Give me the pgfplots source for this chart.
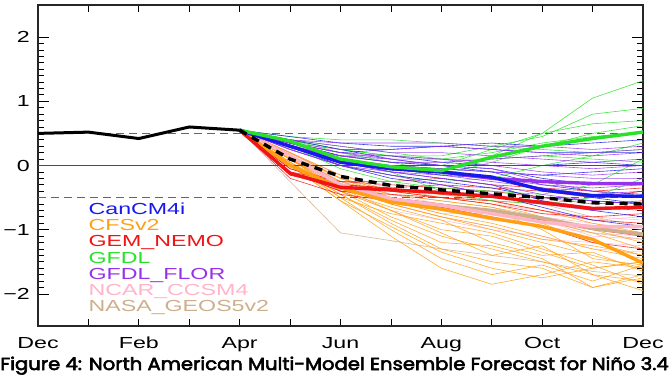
\documentclass[border=0pt]{standalone}
\usepackage{pgfplots}
\pgfplotsset{compat=1.18}
\usepackage{pgfplotstable}
\usepackage{fontspec}
\setmainfont{Liberation Sans}
\newfontfamily\idlfont{Liberation Sans}[FakeStretch=1.45]
\newfontfamily\capfont{Poppins}[FakeStretch=1.12, FakeBold=3.2]

\definecolor{cB}{RGB}{25,25,235}
\definecolor{cO}{RGB}{255,160,20}
\definecolor{cR}{RGB}{240,20,20}
\definecolor{cG}{RGB}{40,225,40}
\definecolor{cP}{RGB}{150,50,235}
\definecolor{cK}{RGB}{255,180,200}
\definecolor{cT}{RGB}{205,175,140}

% observed
\pgfplotstableread{
m obs
0 0.50
1 0.52
2 0.42
3 0.60
4 0.55
}\tabObs

% NMME ensemble mean
\pgfplotstableread{
m nmme
4 0.55
5 0.10
6 -0.17
7 -0.31
8 -0.38
9 -0.44
10 -0.50
11 -0.58
12 -0.60
}\tabMean

% CanCM4i
\pgfplotstableread{
m e1 e2 e3 e4 e5 e6 e7 e8 e9 e10 mean
4 0.55 0.55 0.55 0.55 0.55 0.55 0.55 0.55 0.55 0.55 0.55
5 0.45 0.35 0.30 0.35 0.25 0.30 0.40 0.30 0.35 0.30 0.30
6 0.35 0.20 0.10 0.15 0.00 0.05 0.25 0.00 0.15 0.10 0.05
7 0.30 0.25 0.00 0.05 -0.15 -0.10 0.10 -0.20 0.15 -0.05 -0.05
8 0.30 0.30 -0.05 0.00 -0.25 -0.20 0.00 -0.30 0.05 -0.15 -0.10
9 0.25 0.35 -0.10 -0.10 -0.35 -0.30 -0.05 -0.45 0.00 -0.20 -0.18
10 0.20 0.30 -0.15 -0.30 -0.50 -0.55 -0.20 -0.65 0.00 -0.35 -0.38
11 0.20 0.35 -0.10 -0.40 -0.55 -0.70 -0.30 -0.85 0.05 -0.50 -0.47
12 0.20 0.40 -0.05 -0.45 -0.60 -0.80 -0.30 -0.95 0.00 -0.60 -0.48
}\tabB

% CFSv2
\pgfplotstableread{
m e1 e2 e3 e4 e5 e6 e7 e8 e9 e10 e11 e12 e13 e14 e15 e16 e17 e18 mean
4 0.55 0.55 0.55 0.55 0.55 0.55 0.55 0.55 0.55 0.55 0.55 0.55 0.55 0.55 0.55 0.55 0.55 0.55 0.55
5 0.10 0.00 0.05 0.10 0.15 0.00 0.10 0.20 0.05 0.10 0.00 0.15 0.05 0.10 0.20 0.00 0.05 0.10 0.00
6 -0.30 -0.45 -0.50 -0.40 -0.20 -0.55 -0.35 -0.15 -0.45 -0.30 -0.50 -0.25 -0.40 -0.30 -0.20 -0.55 -0.35 -0.40 -0.35
7 -0.60 -0.90 -1.00 -0.80 -0.50 -1.10 -0.70 -0.40 -0.85 -0.55 -0.75 -0.45 -0.65 -0.50 -0.40 -0.95 -0.60 -0.70 -0.57
8 -0.80 -1.30 -1.45 -1.10 -0.60 -1.60 -1.00 -0.50 -1.20 -0.75 -0.90 -0.55 -0.85 -0.65 -0.45 -1.35 -0.80 -1.05 -0.68
9 -1.00 -1.50 -1.70 -1.30 -0.70 -1.85 -1.10 -0.60 -1.25 -0.90 -1.05 -0.65 -1.20 -0.70 -0.55 -1.60 -0.95 -1.40 -0.82
10 -1.20 -1.60 -1.55 -1.50 -0.90 -1.70 -1.35 -0.80 -1.45 -1.10 -1.30 -0.85 -1.40 -1.00 -0.70 -1.75 -1.15 -1.25 -0.95
11 -1.40 -1.90 -1.80 -1.70 -1.20 -1.50 -1.60 -1.00 -1.90 -1.30 -1.55 -1.05 -1.35 -1.45 -0.90 -1.60 -1.25 -1.70 -1.15
12 -1.60 -1.70 -1.55 -1.95 -1.40 -1.60 -1.50 -1.20 -1.75 -1.45 -1.85 -1.30 -1.65 -1.55 -1.05 -1.50 -1.40 -1.80 -1.52
}\tabO

% GEM_NEMO
\pgfplotstableread{
m e1 e2 e3 e4 e5 e6 e7 e8 mean
4 0.55 0.55 0.55 0.55 0.55 0.55 0.55 0.55 0.55
5 -0.05 -0.10 -0.15 -0.10 -0.05 -0.20 -0.10 -0.15 -0.12
6 -0.25 -0.40 -0.30 -0.40 -0.30 -0.45 -0.25 -0.35 -0.34
7 -0.30 -0.45 -0.35 -0.50 -0.35 -0.55 -0.25 -0.40 -0.38
8 -0.35 -0.50 -0.30 -0.60 -0.45 -0.65 -0.20 -0.50 -0.42
9 -0.40 -0.55 -0.35 -0.70 -0.50 -0.80 -0.30 -0.60 -0.48
10 -0.50 -0.70 -0.40 -0.85 -0.55 -0.95 -0.35 -0.75 -0.58
11 -0.60 -0.85 -0.50 -1.00 -0.65 -1.20 -0.40 -0.80 -0.67
12 -0.55 -0.90 -0.40 -1.10 -0.70 -1.30 -0.35 -0.75 -0.65
}\tabR

% GFDL
\pgfplotstableread{
m e1 e2 e3 e4 e5 e6 e7 e8 e9 e10 mean
4 0.55 0.55 0.55 0.55 0.55 0.55 0.55 0.55 0.55 0.55 0.55
5 0.45 0.40 0.40 0.35 0.35 0.30 0.40 0.30 0.40 0.35 0.38
6 0.40 0.20 0.25 0.15 0.10 0.00 0.30 -0.05 0.25 0.10 0.10
7 0.40 0.05 0.15 0.05 -0.05 -0.15 0.20 -0.25 0.15 -0.10 -0.02
8 0.35 -0.10 0.15 0.00 -0.15 -0.25 0.10 -0.35 0.10 -0.40 -0.08
9 0.30 0.15 0.30 0.25 0.05 -0.20 0.10 -0.40 0.20 -0.55 0.13
10 0.25 0.50 0.45 0.50 0.30 0.00 0.15 -0.45 0.35 -0.60 0.30
11 0.20 1.05 0.80 0.65 0.50 0.15 0.10 -0.30 0.45 -0.50 0.42
12 0.25 1.32 0.89 0.70 0.62 0.35 0.05 0.10 0.52 -0.20 0.52
}\tabG

% GFDL_FLOR
\pgfplotstableread{
m e1 e2 e3 e4 e5 e6 e7 e8 e9 e10 e11 e12 mean
4 0.55 0.55 0.55 0.55 0.55 0.55 0.55 0.55 0.55 0.55 0.55 0.55 0.55
5 0.40 0.35 0.30 0.30 0.25 0.35 0.30 0.40 0.25 0.35 0.30 0.35 0.30
6 0.35 0.25 0.15 0.10 0.00 0.20 0.05 0.30 0.00 0.15 0.10 0.20 0.08
7 0.35 0.25 0.10 0.00 -0.10 0.15 -0.10 0.20 -0.15 0.05 -0.05 0.10 -0.05
8 0.35 0.30 0.10 -0.05 -0.15 0.10 -0.20 0.20 -0.30 0.05 -0.10 0.00 -0.10
9 0.30 0.25 0.05 -0.10 -0.25 0.00 -0.30 0.15 -0.45 0.10 -0.20 -0.05 -0.20
10 0.30 0.20 0.00 -0.15 -0.35 -0.10 -0.45 0.10 -0.60 0.15 -0.30 -0.25 -0.25
11 0.25 0.15 -0.05 -0.20 -0.45 -0.15 -0.55 0.05 -0.70 0.20 -0.35 -0.40 -0.28
12 0.30 0.20 0.00 -0.20 -0.40 -0.10 -0.60 0.10 -0.65 0.25 -0.30 -0.50 -0.28
}\tabP

% NCAR_CCSM4
\pgfplotstableread{
m e1 e2 e3 e4 e5 e6 e7 e8 mean
4 0.55 0.55 0.55 0.55 0.55 0.55 0.55 0.55 0.55
5 0.15 0.20 0.10 0.15 0.20 0.10 0.15 0.20 0.15
6 -0.30 -0.20 -0.40 -0.25 -0.15 -0.35 -0.30 -0.25 -0.30
7 -0.55 -0.40 -0.70 -0.50 -0.35 -0.60 -0.55 -0.45 -0.52
8 -0.70 -0.50 -0.85 -0.65 -0.45 -0.80 -0.75 -0.60 -0.62
9 -0.85 -0.60 -1.00 -0.70 -0.55 -0.95 -0.75 -0.75 -0.75
10 -0.95 -0.70 -1.10 -0.80 -0.75 -1.15 -0.90 -0.85 -0.88
11 -1.05 -0.80 -1.30 -0.90 -0.85 -1.20 -1.00 -1.10 -0.95
12 -1.10 -0.85 -1.35 -1.00 -0.80 -1.25 -0.95 -1.15 -0.95
}\tabK

% NASA_GEOS5v2
\pgfplotstableread{
m e1 e2 e3 e4 mean
4 0.55 0.55 0.55 0.55 0.55
5 -0.25 0.20 0.15 0.20 0.15
6 -1.05 -0.15 -0.25 -0.20 -0.30
7 -1.17 -0.35 -0.50 -0.45 -0.55
8 -1.30 -0.50 -0.65 -0.55 -0.62
9 -1.40 -0.55 -0.75 -0.65 -0.70
10 -1.50 -0.60 -0.85 -0.80 -0.82
11 -1.65 -0.80 -1.05 -0.95 -0.98
12 -1.72 -0.95 -1.15 -1.05 -1.07
}\tabT

\pgfplotsset{
  mem/.style={line width=0.6pt, opacity=0.85},
  ens/.style={line width=3.4pt},
}

\begin{document}
\begin{tikzpicture}
\path[use as bounding box] (-38pt,-52pt) rectangle (633pt,326pt);
\begin{axis}[
  scale only axis, width=605pt, height=321pt,
  xmin=0, xmax=12, ymin=-2.5, ymax=2.5,
  xtick={0,...,12},
  xticklabels={Dec,,Feb,,Apr,,Jun,,Aug,,Oct,,Dec},
  ytick={-2,-1,0,1,2},
  yticklabels={−2,−1,0,1,2},
  minor y tick num=9,
  tick align=inside,
  major tick length=11pt, minor tick length=6pt,
  xtick style={/pgfplots/major tick length=7pt},
  tick style={black, line width=0.8pt},
  axis line style={black!85, line width=1.2pt},
  ticklabel style={font=\idlfont\fontsize{16}{18}\selectfont},
  xticklabel style={anchor=base, yshift=-22pt},
  yticklabel style={anchor=east, inner sep=0pt, xshift=-8pt},
]
% members
\pgfplotsinvokeforeach{1,...,4}{\addplot[mem, cT] table[x=m, y=e#1]{\tabT};}
\pgfplotsinvokeforeach{1,...,8}{\addplot[mem, cK] table[x=m, y=e#1]{\tabK};}
\pgfplotsinvokeforeach{1,...,18}{\addplot[mem, cO] table[x=m, y=e#1]{\tabO};}
\pgfplotsinvokeforeach{1,...,8}{\addplot[mem, cR] table[x=m, y=e#1]{\tabR};}
\pgfplotsinvokeforeach{1,...,10}{\addplot[mem, cG] table[x=m, y=e#1]{\tabG};}
\pgfplotsinvokeforeach{1,...,10}{\addplot[mem, cB] table[x=m, y=e#1]{\tabB};}
\pgfplotsinvokeforeach{1,...,12}{\addplot[mem, cP] table[x=m, y=e#1]{\tabP};}
% reference lines
\addplot[black!70, line width=1pt] coordinates {(0,0) (12,0)};
\addplot[black!60, line width=1pt, dash pattern=on 8pt off 5pt] coordinates {(0,0.5) (12,0.5)};
\addplot[black!60, line width=1pt, dash pattern=on 8pt off 5pt] coordinates {(0,-0.5) (12,-0.5)};
% model means
\addplot[ens, cT] table[x=m, y=mean]{\tabT};
\addplot[ens, cK] table[x=m, y=mean]{\tabK};
\addplot[ens, cO] table[x=m, y=mean]{\tabO};
\addplot[ens, cR] table[x=m, y=mean]{\tabR};
\addplot[ens, cP] table[x=m, y=mean]{\tabP};
\addplot[ens, cB] table[x=m, y=mean]{\tabB};
\addplot[ens, cG] table[x=m, y=mean]{\tabG};
% NMME mean and observations
\addplot[black, line width=3.4pt, dash pattern=on 8pt off 6pt] table[x=m, y=nmme]{\tabMean};
\addplot[black, line width=3pt] table[x=m, y=obs]{\tabObs};
% model labels
\begin{scope}[every node/.style={anchor=base west, inner sep=0pt, font=\idlfont\fontsize{16}{18}\selectfont}]
\node[text=cB] at (axis cs:1.0,-0.766) {CanCM4i};
\node[text=cO] at (axis cs:1.0,-1.017) {CFSv2};
\node[text=cR] at (axis cs:1.0,-1.269) {GEM\_NEMO};
\node[text=cG] at (axis cs:1.0,-1.520) {GFDL};
\node[text=cP] at (axis cs:1.0,-1.772) {GFDL\_FLOR};
\node[text=cK] at (axis cs:1.0,-2.023) {NCAR\_CCSM4};
\node[text=cT] at (axis cs:1.0,-2.275) {NASA\_GEOS5v2};
\end{scope}
\end{axis}
\node[anchor=base, inner sep=0pt] at (296.5pt,-44pt) {\capfont\fontsize{17.5}{20}\selectfont Figure 4: North American Multi-Model Ensemble Forecast for Niño 3.4};
\end{tikzpicture}
\end{document}
